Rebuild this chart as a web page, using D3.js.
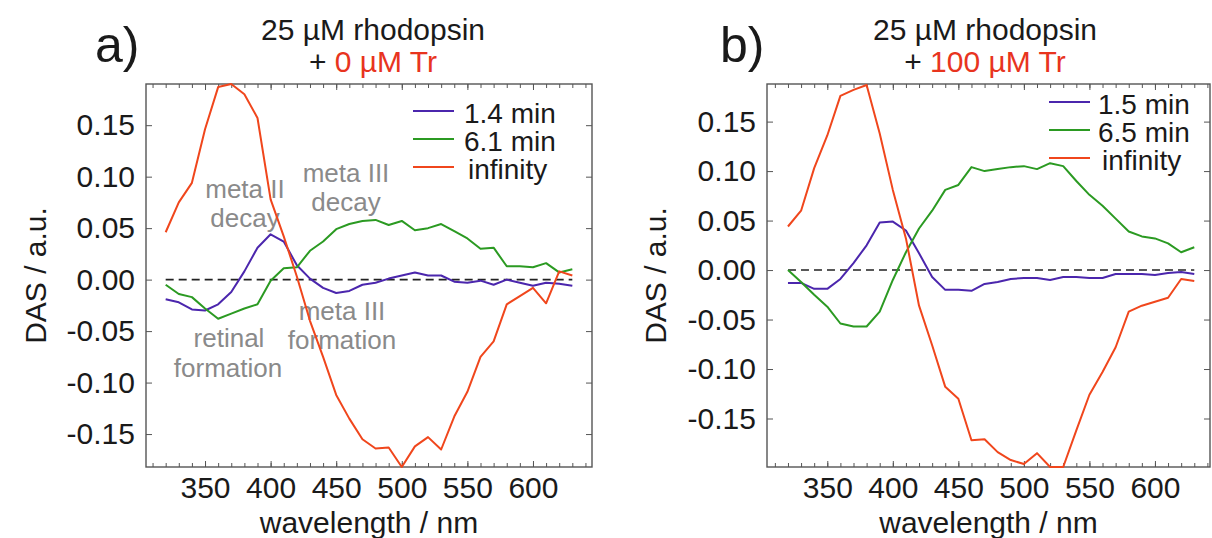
<!DOCTYPE html>
<html>
<head>
<meta charset="utf-8">
<script src="https://cdn.jsdelivr.net/npm/d3@7"></script>
<style>
  body { margin: 0; background: #fff; }
  svg { display: block; font-family: "Liberation Sans", Arial, sans-serif; }
  .tick text { fill: #1a1a1a; }
</style>
</head>
<body>
<div id="chart"></div>
<script>
// DAS spectra, two panels (rhodopsin with 0 / 100 uM Tr)

const wavelengths = [320, 330, 340, 350, 360, 370, 380, 390, 400, 410, 420, 430, 440, 450, 460, 470,
  480, 490, 500, 510, 520, 530, 540, 550, 560, 570, 580, 590, 600, 610, 620, 630];

// panel a
const blueA = [-0.019, -0.022, -0.029, -0.030, -0.024, -0.012, 0.008, 0.031, 0.044, 0.037, 0.014, 0.001,
  -0.008, -0.013, -0.011, -0.005, -0.003, 0.001, 0.004, 0.007, 0.004, 0.004, -0.002, -0.003,
  -0.001, -0.005, 0.000, -0.003, -0.006, -0.003, -0.004, -0.006];
const greenA = [-0.005, -0.014, -0.017, -0.028, -0.038, -0.033, -0.028, -0.024, -0.001, 0.011, 0.012, 0.028,
  0.037, 0.049, 0.054, 0.057, 0.058, 0.053, 0.057, 0.048, 0.050, 0.054, 0.047, 0.040,
  0.030, 0.031, 0.013, 0.013, 0.012, 0.016, 0.007, 0.010];
const redA = [0.046, 0.075, 0.094, 0.146, 0.187, 0.190, 0.180, 0.157, 0.078, 0.042, 0.003, -0.040,
  -0.075, -0.112, -0.135, -0.155, -0.164, -0.163, -0.182, -0.162, -0.153, -0.165, -0.133, -0.109,
  -0.075, -0.060, -0.024, -0.016, -0.008, -0.023, 0.008, 0.004];

// panel b
const blueB = [-0.013, -0.013, -0.019, -0.019, -0.009, 0.007, 0.025, 0.048, 0.049, 0.040, 0.017, -0.007,
  -0.020, -0.020, -0.021, -0.014, -0.012, -0.009, -0.008, -0.008, -0.010, -0.007, -0.007, -0.008,
  -0.008, -0.004, -0.004, -0.004, -0.005, -0.003, -0.002, -0.004];
const greenB = [0.000, -0.012, -0.025, -0.037, -0.054, -0.057, -0.057, -0.042, -0.010, 0.018, 0.042, 0.060,
  0.081, 0.086, 0.104, 0.100, 0.102, 0.104, 0.105, 0.102, 0.108, 0.105, 0.090, 0.076,
  0.065, 0.052, 0.039, 0.034, 0.032, 0.027, 0.018, 0.023];
const redB = [0.044, 0.060, 0.103, 0.136, 0.176, 0.182, 0.187, 0.138, 0.081, 0.032, -0.036, -0.076,
  -0.118, -0.130, -0.172, -0.171, -0.184, -0.192, -0.196, -0.185, -0.199, -0.199, -0.162, -0.126,
  -0.103, -0.078, -0.042, -0.036, -0.032, -0.028, -0.009, -0.011];

const legendA = ["1.4 min", "6.1 min", "infinity"];
const legendB = ["1.5 min", "6.5 min", "infinity"];
const xTickValues = [350, 400, 450, 500, 550, 600];
const xMinorValues = [310, 320, 330, 340, 350, 360, 370, 380, 390, 400, 410, 420, 430, 440, 450, 460, 470,
  480, 490, 500, 510, 520, 530, 540, 550, 560, 570, 580, 590, 600, 610, 620, 630, 640];
const yTickValues = [-0.15, -0.10, -0.05, 0.00, 0.05, 0.10, 0.15];

const colors = ["#4b26ad", "#2b9a22", "#f0461c"];
const titleRed = "#e8341e";
const annoGray = "#8a8a8a";

const W = 1212, H = 538;
const svg = d3.select("#chart").append("svg")
  .attr("width", W)
  .attr("height", H);

// plain hyphen for negatives, like the source figure
const fmtY = d => d3.format(".2f")(d).replace("\u2212", "-");

function drawPanel(opts) {
  const x = d3.scaleLinear().domain(opts.xDomain).range([opts.left, opts.right]);
  const y = d3.scaleLinear().domain(opts.yDomain).range([opts.bottom, opts.top]);
  const g = svg.append("g");

  // minor ticks top/bottom
  g.append("g")
    .attr("transform", `translate(0,${opts.bottom})`)
    .call(d3.axisBottom(x).tickValues(xMinorValues).tickFormat("").tickSize(-4))
    .call(a => a.select(".domain").remove());
  g.append("g")
    .attr("transform", `translate(0,${opts.top})`)
    .call(d3.axisTop(x).tickValues(xMinorValues).tickFormat("").tickSize(-4))
    .call(a => a.select(".domain").remove());

  // major x ticks with labels
  g.append("g")
    .attr("transform", `translate(0,${opts.bottom})`)
    .call(d3.axisBottom(x).tickValues(xTickValues).tickFormat(d3.format("d")).tickSize(-6).tickPadding(10))
    .call(a => a.select(".domain").remove())
    .selectAll("text")
    .style("font-size", "30px");
  g.append("g")
    .attr("transform", `translate(0,${opts.top})`)
    .call(d3.axisTop(x).tickValues(xTickValues).tickFormat("").tickSize(-6))
    .call(a => a.select(".domain").remove());

  // y axes
  g.append("g")
    .attr("transform", `translate(${opts.left},0)`)
    .call(d3.axisLeft(y).tickValues(yTickValues).tickFormat(fmtY).tickSize(-6).tickPadding(11))
    .call(a => a.select(".domain").remove())
    .selectAll("text")
    .style("font-size", "30px");
  g.append("g")
    .attr("transform", `translate(${opts.right},0)`)
    .call(d3.axisRight(y).tickValues(yTickValues).tickFormat("").tickSize(-6))
    .call(a => a.select(".domain").remove());

  g.selectAll(".tick line").attr("stroke", "#555");

  // frame
  g.append("rect")
    .attr("x", opts.left)
    .attr("y", opts.top)
    .attr("width", opts.right - opts.left)
    .attr("height", opts.bottom - opts.top)
    .attr("fill", "none")
    .attr("stroke", "#555")
    .attr("stroke-width", 1.4);

  // zero line
  g.append("line")
    .attr("x1", x(wavelengths[0]))
    .attr("x2", x(wavelengths[wavelengths.length - 1]))
    .attr("y1", y(0))
    .attr("y2", y(0))
    .attr("stroke", "#222")
    .attr("stroke-width", 1.6)
    .attr("stroke-dasharray", "8,5");

  // annotations under the curves
  (opts.notes || []).forEach(n => {
    g.append("text")
      .attr("x", n.x)
      .attr("y", n.y)
      .attr("text-anchor", "middle")
      .attr("fill", annoGray)
      .style("font-size", "26px")
      .text(n.text);
  });

  const line = d3.line()
    .x((d, i) => x(wavelengths[i]))
    .y(d => y(d));

  opts.series.forEach((s, i) => {
    g.append("path")
      .datum(s)
      .attr("fill", "none")
      .attr("stroke", colors[i])
      .attr("stroke-width", 2)
      .attr("stroke-linejoin", "round")
      .attr("d", line);
  });

  // legend
  const lg = g.append("g").attr("transform", `translate(${opts.legendX},${opts.legendY})`);
  opts.legend.forEach((label, i) => {
    const row = lg.append("g").attr("transform", `translate(0,${i * 28})`);
    row.append("line")
      .attr("x1", 0)
      .attr("x2", 41)
      .attr("y1", 0)
      .attr("y2", 0)
      .attr("stroke", colors[i])
      .attr("stroke-width", 2);
    row.append("text")
      .attr("x", label === "infinity" ? opts.legendText + 4 : opts.legendText)
      .attr("y", 12)
      .attr("fill", "#1a1a1a")
      .style("font-size", "28px")
      .text(label);
  });

  // axis titles
  const mid = (opts.left + opts.right) / 2;
  g.append("text")
    .attr("x", mid)
    .attr("y", 533)
    .attr("text-anchor", "middle")
    .attr("fill", "#1a1a1a")
    .style("font-size", "30px")
    .text("wavelength / nm");

  g.append("text")
    .attr("transform", `translate(${opts.yTitleX},${(opts.top + opts.bottom) / 2}) rotate(-90)`)
    .attr("text-anchor", "middle")
    .attr("fill", "#1a1a1a")
    .style("font-size", "30px")
    .text("DAS / a.u.");

  // panel letter and title
  g.append("text")
    .attr("x", opts.letterX)
    .attr("y", 62)
    .attr("fill", "#1a1a1a")
    .style("font-size", "50px")
    .text(opts.letter);

  g.append("text")
    .attr("x", opts.titleX)
    .attr("y", 40)
    .attr("text-anchor", "middle")
    .attr("fill", "#1a1a1a")
    .style("font-size", "30px")
    .text("25 µM rhodopsin");

  const t2 = g.append("text")
    .attr("x", opts.titleX)
    .attr("y", 72)
    .attr("text-anchor", "middle")
    .attr("fill", "#1a1a1a")
    .style("font-size", "30px");
  t2.append("tspan").text("+ ");
  t2.append("tspan").attr("fill", titleRed).text(opts.trLabel);
}

drawPanel({
  left: 146, right: 592, top: 84, bottom: 467,
  xDomain: [305, 645], yDomain: [-0.182, 0.19],
  series: [blueA, greenA, redA],
  legend: legendA, legendX: 413, legendY: 111, legendText: 51,
  yTitleX: 46, letter: "a)", letterX: 95, titleX: 373, trLabel: "0 µM Tr",
  notes: [
    { text: "meta II", x: 245, y: 198 },
    { text: "decay", x: 245, y: 227 },
    { text: "meta III", x: 346, y: 182 },
    { text: "decay", x: 346, y: 211 },
    { text: "retinal", x: 229, y: 347 },
    { text: "formation", x: 228, y: 377 },
    { text: "meta III", x: 342, y: 320 },
    { text: "formation", x: 342, y: 349 }
  ]
});

drawPanel({
  left: 767, right: 1210, top: 84, bottom: 467,
  xDomain: [304, 642], yDomain: [-0.199, 0.188],
  series: [blueB, greenB, redB],
  legend: legendB, legendX: 1049, legendY: 102, legendText: 49,
  yTitleX: 666, letter: "b)", letterX: 720, titleX: 985, trLabel: "100 µM Tr"
});
</script>
</body>
</html>
